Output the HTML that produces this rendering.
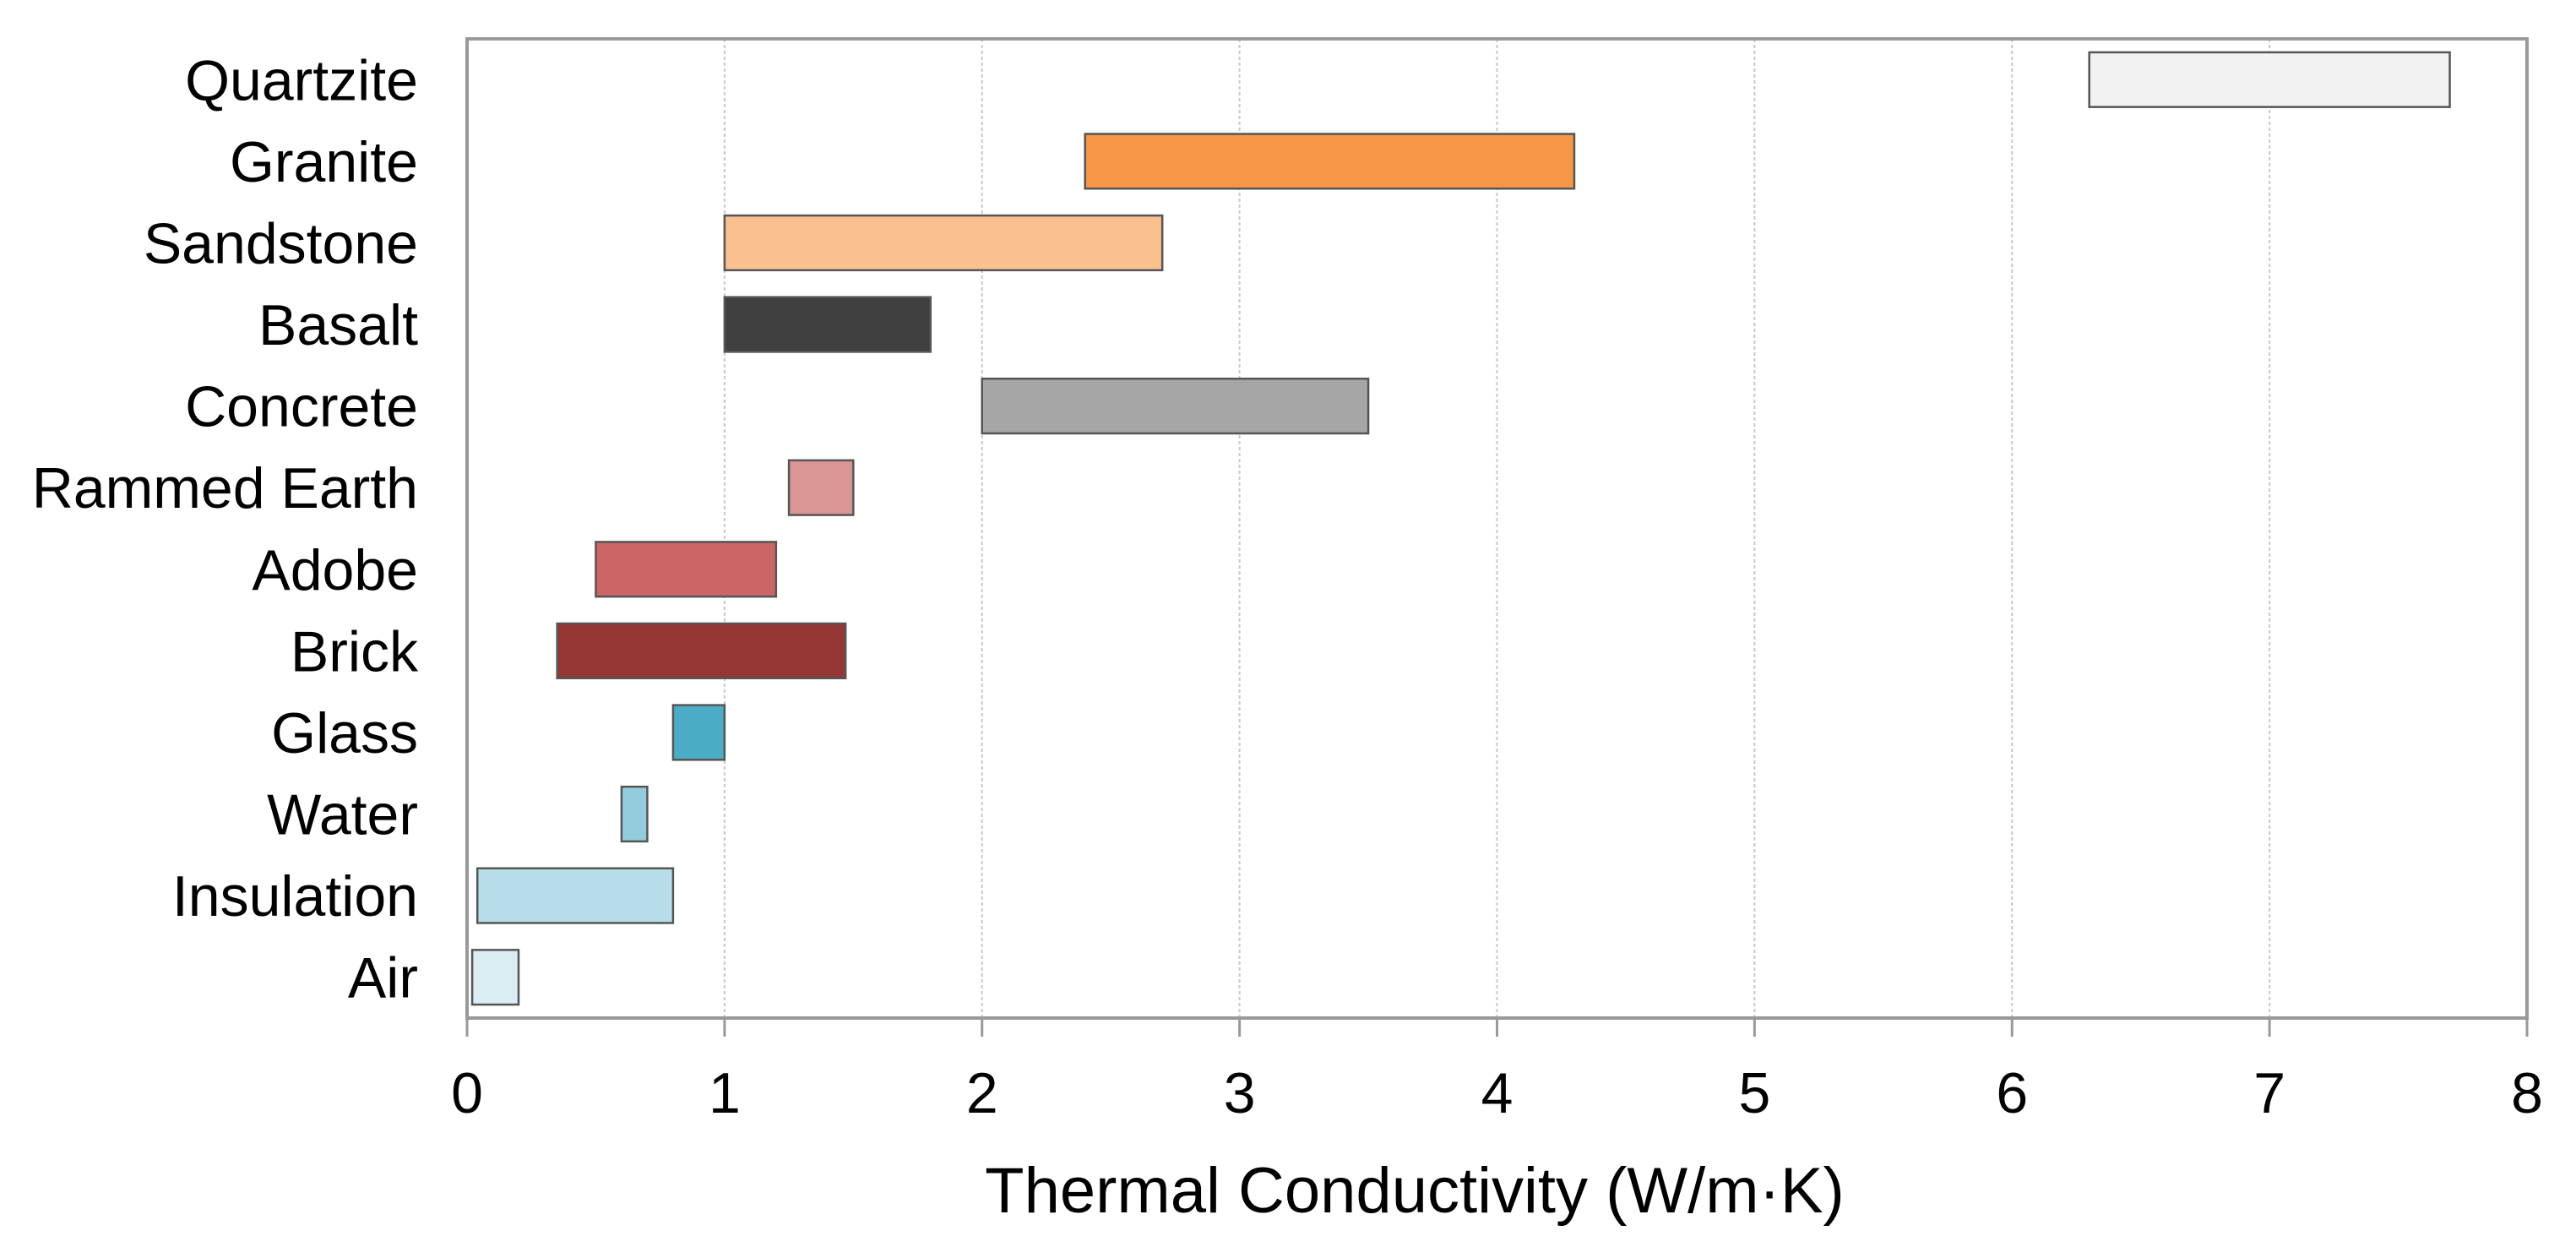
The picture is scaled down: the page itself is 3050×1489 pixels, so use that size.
<!DOCTYPE html>
<html><head><meta charset="utf-8"><style>
html,body{margin:0;padding:0;background:#fff}
svg text{font-family:"Liberation Sans",Arial,sans-serif;fill:#000}
</style></head><body>
<svg width="3050" height="1484" viewBox="0 0 3050 1484">
<g id="grid"></g>
<g id="bars"></g>
<g id="axes"></g>
<text x="1675" y="1435" font-size="76" text-anchor="middle">Thermal Conductivity (W/m·K)</text>
</svg>
<script>
const categories = ["Quartzite","Granite","Sandstone","Basalt","Concrete","Rammed Earth","Adobe","Brick","Glass","Water","Insulation","Air"];
const lowValues = [6.3,2.4,1.0,1.0,2.0,1.25,0.5,0.35,0.8,0.6,0.04,0.02];
const highValues = [7.7,4.3,2.7,1.8,3.5,1.5,1.2,1.47,1.0,0.7,0.8,0.2];
const barColors = ["#f2f2f2","#f79646","#fac090","#404040","#a6a6a6","#d99694","#cc6666","#953735","#4bacc6","#93cddd","#b7dee8","#dbeef4"];
const xTicks = [0,1,2,3,4,5,6,7,8];

const L=553,R=2992,T=46,B=1205,xMax=8;
const NS="http://www.w3.org/2000/svg";
const x=v=>L+(v/xMax)*(R-L);
const band=(B-T)/categories.length;
const yc=i=>T+band*(i+0.5);
function mk(tag,attrs,parent){const e=document.createElementNS(NS,tag);for(const k in attrs)e.setAttribute(k,attrs[k]);parent.appendChild(e);return e;}
const grid=document.getElementById('grid'),bars=document.getElementById('bars'),axes=document.getElementById('axes');

xTicks.forEach(t=>{
  if(t>0&&t<xMax){const g=mk('line',{x1:x(t),x2:x(t),y1:T,y2:B,stroke:'#c8c8c8','stroke-width':2,'stroke-dasharray':'4,3'},grid);
  
  }
  const tk=mk('line',{x1:x(t),x2:x(t),y1:B,y2:B+22,stroke:'#999','stroke-width':3},axes);
  
  
  const tl=mk('text',{x:x(t),y:B+112,'font-size':68,'text-anchor':'middle'},axes);
  tl.textContent=t;
  
  
});

const h=band*0.67;
categories.forEach((c,i)=>{
  const r=mk('rect',{x:x(lowValues[i]),y:yc(i)-h/2,width:x(highValues[i])-x(lowValues[i]),height:h,fill:barColors[i],stroke:'#555','stroke-width':2.5},bars);
  
  
  const t=mk('text',{x:495,y:yc(i)+24,'font-size':68,'text-anchor':'end'},axes);
  t.textContent=c;
  
  
});

const fr=mk('rect',{x:L,y:T,width:R-L,height:B-T,fill:'none',stroke:'#999','stroke-width':4},axes);


</script>
</body></html>
